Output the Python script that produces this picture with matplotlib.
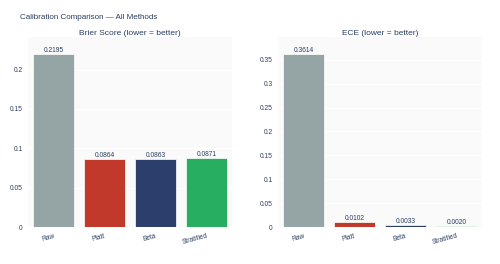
import matplotlib.pyplot as plt
import numpy as np

plt.rcParams['font.family'] = ['Liberation Sans', 'DejaVu Sans']

methods = ['Raw', 'Platt', 'Beta', 'Stratified']
brier = [0.2195, 0.0864, 0.0863, 0.0871]
ece = [0.3614, 0.0102, 0.0033, 0.0020]
colors = ['#95a5a6', '#c0392b', '#2c3e6b', '#27ae60']

brier_ticks = [0, 0.05, 0.1, 0.15, 0.2]
ece_ticks = [0, 0.05, 0.1, 0.15, 0.2, 0.25, 0.3, 0.35]

txt = '#2a3f5f'

fig = plt.figure(figsize=(5, 2.64), dpi=100)
fig.patch.set_facecolor('white')

ax1 = fig.add_axes([0.056, 0.140, 0.408, 0.72])
ax2 = fig.add_axes([0.556, 0.140, 0.408, 0.72])


def draw(ax, values, ticks, title):
    x = np.arange(len(methods))
    ax.set_facecolor('#fafafa')
    ax.bar(x, values, width=0.8, color=colors, edgecolor='white', linewidth=0.5, zorder=3)
    for xi, v in zip(x, values):
        ax.text(xi, v, f'{v:.4f}', ha='center', va='bottom', fontsize=4.8, color=txt)
    ax.set_xlim(-0.5, len(methods) - 0.5)
    ax.set_ylim(0, max(values) * 1.1)
    ax.set_yticks(ticks)
    ax.set_yticklabels([f'{t:g}' for t in ticks])
    ax.set_xticks(x)
    ax.set_xticklabels(methods, rotation=15, ha='right', rotation_mode='anchor')
    ax.tick_params(axis='both', length=0, labelsize=4.8, labelcolor=txt, pad=4)
    ax.grid(axis='y', color='white', linewidth=0.8, zorder=0)
    for s in ax.spines.values():
        s.set_visible(False)
    ax.set_title(title, fontsize=6, color=txt, pad=1.5)


draw(ax1, brier, brier_ticks, 'Brier Score (lower = better)')
draw(ax2, ece, ece_ticks, 'ECE (lower = better)')

fig.text(0.04, 0.935, 'Calibration Comparison — All Methods', fontsize=5.8, color=txt, va='center')

plt.savefig('out.png', dpi=100)
